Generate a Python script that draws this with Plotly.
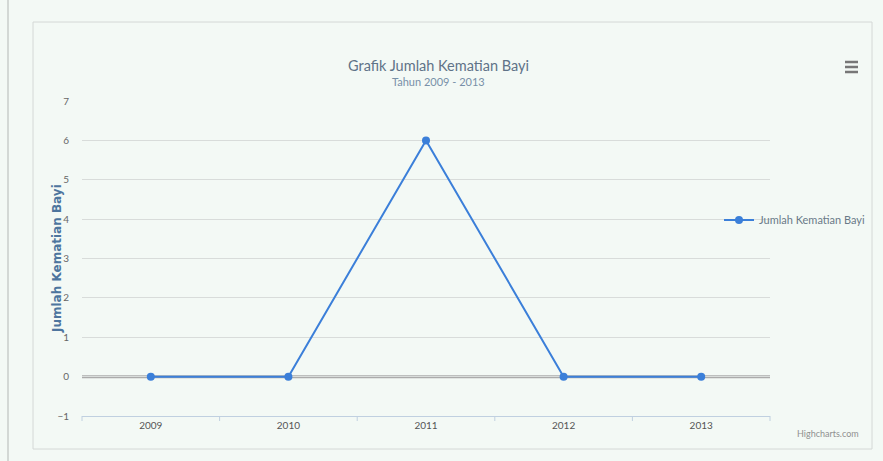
import plotly.graph_objects as go

# Data
years = ["2009", "2010", "2011", "2012", "2013"]
deaths = [0, 0, 6, 0, 0]
y_ticks = [-1, 0, 1, 2, 3, 4, 5, 6, 7]

W, H = 883, 461
L, R, T, B = 82, 770, 101, 416  # plot area in pixels


def px(x):
    return (x - L) / (R - L)


def py(y):
    return (B - y) / (B - T)


fig = go.Figure()
fig.add_trace(go.Scatter(
    x=years, y=deaths, mode="lines+markers", name="Jumlah Kematian Bayi",
    line=dict(color="#3b7fd9", width=2),
    marker=dict(color="#3b7fd9", size=8, symbol="circle"),
))

shapes = [
    # outer container
    dict(type="rect", xref="paper", yref="paper", x0=px(33), x1=px(872), y0=py(449), y1=py(22),
         line=dict(color="#d4d8d6", width=1), layer="below"),
    # page edge line
    dict(type="line", xref="paper", yref="paper", x0=px(8), x1=px(8), y0=py(461), y1=py(0),
         line=dict(color="#c8ccca", width=1.5), layer="below"),
    # zero line, above the grid but beneath the series
    dict(type="line", xref="paper", yref="y", x0=0, x1=1, y0=0, y1=0,
         line=dict(color="#ababab", width=3), layer="between"),
]
# menu icon
for yy in (62, 67, 72):
    shapes.append(dict(type="line", xref="paper", yref="paper", x0=px(845), x1=px(858),
                       y0=py(yy), y1=py(yy), line=dict(color="#777777", width=2.5)))
# category tick marks under the axis
for i in range(6):
    xx = px(L + i * (R - L) / 5)
    shapes.append(dict(type="line", xref="paper", yref="paper", x0=xx, x1=xx,
                       y0=py(B), y1=py(B + 5), line=dict(color="#c0d0e0", width=1)))

fig.update_layout(
    width=W, height=H,
    margin=dict(l=L, r=W - R, t=T, b=H - B, pad=0, autoexpand=False),
    paper_bgcolor="#f3f9f5",
    plot_bgcolor="rgba(0,0,0,0)",
    font=dict(family="Lato, Open Sans, sans-serif", color="#666666"),
    xaxis=dict(
        type="category", range=[-0.5, 4.5], showgrid=False, zeroline=False,
        showline=True, linecolor="#c0d0e0", linewidth=1, ticks="",
        tickfont=dict(size=10, color="#555555"),
    ),
    yaxis=dict(
        range=[-1, 7], tickvals=y_ticks, showgrid=True, gridcolor="#d8dcda", gridwidth=1,
        zeroline=False, showline=False, ticks="", ticklabelstandoff=12,
        tickfont=dict(size=10, color="#666666"),
    ),
    showlegend=True,
    legend=dict(x=px(719), xanchor="left", y=py(220), yanchor="middle",
                bgcolor="rgba(0,0,0,0)", font=dict(size=11, color="#6a7a88"),
                itemwidth=30),
    shapes=shapes,
    annotations=[
        dict(text="Grafik Jumlah Kematian Bayi", xref="paper", yref="paper",
             x=px(438), y=py(66), xanchor="center", yanchor="middle", showarrow=False,
             font=dict(size=14.5, color="#5f7388")),
        dict(text="Tahun 2009 - 2013", xref="paper", yref="paper",
             x=px(438), y=py(81), xanchor="center", yanchor="middle", showarrow=False,
             font=dict(size=11, color="#7890a8")),
        dict(text="<b>Jumlah Kematian Bayi</b>", xref="paper", yref="paper",
             x=px(57), y=py(259), xanchor="center", yanchor="middle", showarrow=False,
             textangle=-90, font=dict(family="DejaVu Sans", size=12, color="#4d759e")),
        dict(text="Highcharts.com", xref="paper", yref="paper", x=px(861), y=py(433),
             xanchor="right", yanchor="middle", showarrow=False,
             font=dict(size=9, color="#909090")),
    ],
)

fig.write_html("out.html")
